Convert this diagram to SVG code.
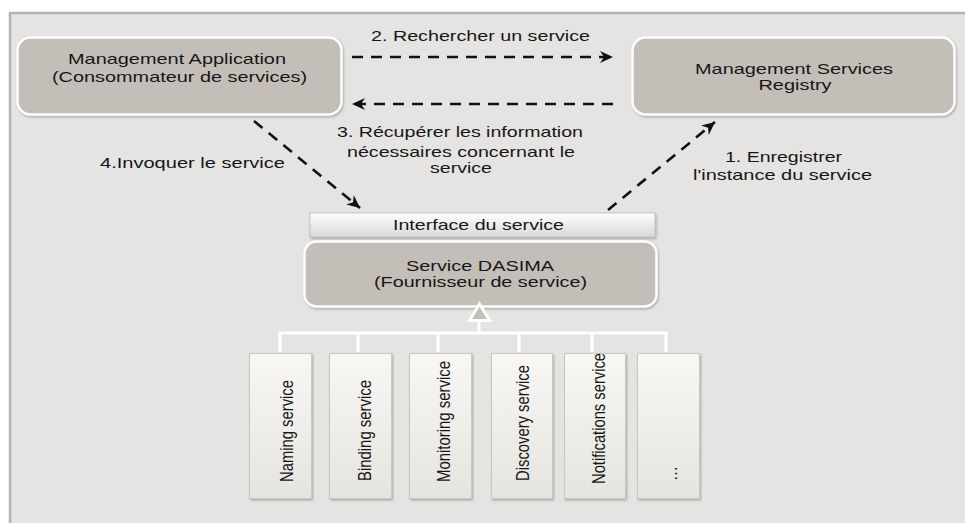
<svg xmlns="http://www.w3.org/2000/svg" width="965" height="523" viewBox="0 0 965 523">
  <defs>
    <style>
      .lbl { font-family: "Liberation Sans", Arial, sans-serif; font-size: 15px; fill: #161616; }
      .mid { text-anchor: middle; }
      .box { fill: #c3bfb8; stroke: #ffffff; stroke-width: 2.5; }
      .svc { fill: url(#svcGrad); stroke: #cbc8c1; stroke-width: 1; }
      .arrow { fill: none; stroke: #111111; stroke-width: 2.6; stroke-dasharray: 11 8; }
      .tree { fill: none; stroke: #ffffff; stroke-width: 3.2; }
    </style>
    <linearGradient id="svcGrad" x1="0" y1="0" x2="0" y2="1">
      <stop offset="0" stop-color="#f8f7f4"/>
      <stop offset="1" stop-color="#e6e4de"/>
    </linearGradient>
    <linearGradient id="ifGrad" x1="0" y1="0" x2="0" y2="1">
      <stop offset="0" stop-color="#ffffff"/>
      <stop offset="1" stop-color="#d8d8d8"/>
    </linearGradient>
    <filter id="shadow" x="-10%" y="-10%" width="120%" height="130%">
      <feDropShadow dx="1" dy="1.5" stdDeviation="1.2" flood-color="#7a7a7a" flood-opacity="0.55"/>
    </filter>
    <marker id="head" markerUnits="userSpaceOnUse" markerWidth="14" markerHeight="12" viewBox="0 0 14 12" refX="13" refY="6" orient="auto">
      <path d="M0,0 L13,6 L0,12 L4,6 Z" fill="#111111"/>
    </marker>
  </defs>

  <!-- background panel -->
  <rect x="0" y="0" width="965" height="523" fill="#ffffff"/>
  <rect x="10" y="13" width="965" height="520" fill="#e5e4e2" stroke="#b3b3b3" stroke-width="2.5"/>

  <!-- connectors -->
  <g id="connectors">
    <line class="arrow" x1="352" y1="57" x2="613" y2="57" marker-end="url(#head)"/>
    <line class="arrow" x1="613" y1="104" x2="352" y2="104" marker-end="url(#head)"/>
    <line class="arrow" x1="254" y1="121" x2="360" y2="208" marker-end="url(#head)"/>
    <line class="arrow" x1="608" y1="210" x2="715" y2="122" marker-end="url(#head)"/>
    <path class="tree" d="M479,320 V333 M280,352 V333 H666 V352 M358,333 V352 M438,333 V352 M519,333 V352 M592,333 V352"/>
    <text class="lbl mid" x="480.5" y="41" textLength="219" lengthAdjust="spacingAndGlyphs">2. Rechercher un service</text>
    <text class="lbl mid" x="460" y="137" textLength="246" lengthAdjust="spacingAndGlyphs">3. Récupérer les information</text>
    <text class="lbl mid" x="461" y="157" textLength="228" lengthAdjust="spacingAndGlyphs">nécessaires concernant le</text>
    <text class="lbl mid" x="461" y="173" textLength="62" lengthAdjust="spacingAndGlyphs">service</text>
    <text class="lbl mid" x="192.5" y="168" textLength="185" lengthAdjust="spacingAndGlyphs">4.Invoquer le service</text>
    <text class="lbl mid" x="783.5" y="162" textLength="117" lengthAdjust="spacingAndGlyphs">1. Enregistrer</text>
    <text class="lbl mid" x="782.5" y="180" textLength="179" lengthAdjust="spacingAndGlyphs">l'instance du service</text>
  </g>

  <g id="app">
    <rect class="box" x="17.5" y="37.5" width="324" height="77" rx="13" filter="url(#shadow)"/>
    <text class="lbl mid" x="177" y="64" textLength="218" lengthAdjust="spacingAndGlyphs">Management Application</text>
    <text class="lbl mid" x="179.5" y="82" textLength="255" lengthAdjust="spacingAndGlyphs">(Consommateur de services)</text>
  </g>

  <g id="registry">
    <rect class="box" x="632.5" y="37.5" width="322" height="77" rx="13" filter="url(#shadow)"/>
    <text class="lbl mid" x="794" y="74" textLength="198" lengthAdjust="spacingAndGlyphs">Management Services</text>
    <text class="lbl mid" x="795" y="90" textLength="73" lengthAdjust="spacingAndGlyphs">Registry</text>
  </g>

  <g id="interface">
    <rect x="310" y="213" width="345" height="24" fill="url(#ifGrad)" stroke="#c4c4c4" stroke-width="1" filter="url(#shadow)"/>
    <text class="lbl mid" x="478.5" y="230" textLength="171" lengthAdjust="spacingAndGlyphs">Interface du service</text>
  </g>

  <g id="dasima">
    <rect class="box" x="304.5" y="241.5" width="352" height="65" rx="12" filter="url(#shadow)"/>
    <text class="lbl mid" x="480" y="271" textLength="148" lengthAdjust="spacingAndGlyphs">Service DASIMA</text>
    <text class="lbl mid" x="480.5" y="287" textLength="213" lengthAdjust="spacingAndGlyphs">(Fournisseur de service)</text>
    <polygon points="479.5,304 469.5,320.5 489.5,320.5" fill="#c3bfb8" stroke="#ffffff" stroke-width="3" stroke-linejoin="miter"/>
  </g>

  <g id="naming">
    <rect class="svc" x="249.5" y="353.5" width="62" height="145" filter="url(#shadow)"/>
    <text class="lbl" transform="translate(293,482) rotate(-90) scale(1,1.27)" textLength="102" lengthAdjust="spacingAndGlyphs">Naming service</text>
  </g>
  <g id="binding">
    <rect class="svc" x="329.5" y="353.5" width="62" height="145" filter="url(#shadow)"/>
    <text class="lbl" transform="translate(371,481) rotate(-90) scale(1,1.27)" textLength="101" lengthAdjust="spacingAndGlyphs">Binding service</text>
  </g>
  <g id="monitoring">
    <rect class="svc" x="409.5" y="353.5" width="62" height="145" filter="url(#shadow)"/>
    <text class="lbl" transform="translate(450,482) rotate(-90) scale(1,1.27)" textLength="121" lengthAdjust="spacingAndGlyphs">Monitoring service</text>
  </g>
  <g id="discovery">
    <rect class="svc" x="491.5" y="353.5" width="61" height="145" filter="url(#shadow)"/>
    <text class="lbl" transform="translate(529,481) rotate(-90) scale(1,1.27)" textLength="116" lengthAdjust="spacingAndGlyphs">Discovery service</text>
  </g>
  <g id="notifications">
    <rect class="svc" x="564.5" y="353.5" width="61" height="145" filter="url(#shadow)"/>
    <text class="lbl" transform="translate(605,484) rotate(-90) scale(1,1.27)" textLength="131" lengthAdjust="spacingAndGlyphs">Notifications service</text>
  </g>
  <g id="more">
    <rect class="svc" x="637.5" y="353.5" width="62" height="145" filter="url(#shadow)"/>
    <text class="lbl" transform="translate(677,481) rotate(-90) scale(1,1.27)">…</text>
  </g>
</svg>
